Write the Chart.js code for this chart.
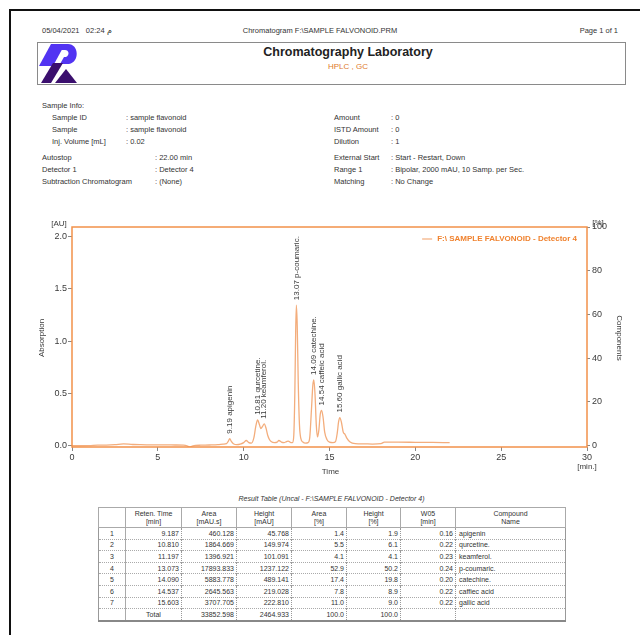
<!DOCTYPE html>
<html>
<head>
<meta charset="utf-8">
<title>Chromatogram F:\SAMPLE FALVONOID.PRM</title>
<script src="https://cdn.jsdelivr.net/npm/chart.js@4.4.1/dist/chart.umd.min.js"></script>
<style>
  html, body { margin: 0; padding: 0; background: #ffffff; }
  body { width: 640px; height: 635px; position: relative; overflow: hidden;
         font-family: "Liberation Sans", Arial, sans-serif; color: #333; }
  .abs { position: absolute; white-space: nowrap; }
  .page-top { position: absolute; left: 9px; top: 9px; width: 640px; height: 0; border-top: 2px solid #111; }
  .page-left { position: absolute; left: 9px; top: 9px; width: 0; height: 640px; border-left: 2px solid #111; }
  .small { font-size: 7.5px; color: #333; }
  .hdrbox { position: absolute; left: 37px; top: 42px; width: 587px; height: 41px; border: 1px solid #8a8a8a; }
  #chartWrap { position: absolute; left: 0; top: 200px; width: 640px; height: 290px; }
  table.res { position: absolute; left: 98px; top: 507px; border-collapse: collapse;
              font-size: 7px; color: #333; table-layout: fixed;
              border: 1px solid #999; border-bottom: 2px solid #888; }
  table.res th { font-weight: normal; height: 19px; line-height: 8px; text-align: center;
                 border: 1px solid #aaa; padding: 0; }
  table.res td { height: 10.6px; padding: 0 2px; line-height: 9px;
                 border-left: 1px dotted #999; border-right: 1px dotted #999; border-top: 1px dotted #aaa; text-align: right; }
  table.res td.c { text-align: center; border-right: 1px solid #aaa; }
  table.res td.l { text-align: left; padding-left: 3px; }
</style>
</head>
<body>
<div class="page-top"></div>
<div class="page-left"></div>

<div class="abs small" style="left:42px; top:26px;">05/04/2021&nbsp;&nbsp; 02:24 <span>م</span></div>
<div class="abs small" style="left:0; width:640px; top:26px; text-align:center;">Chromatogram F:\SAMPLE FALVONOID.PRM</div>
<div class="abs small" style="right:22px; top:26px;">Page 1 of 1</div>

<div class="hdrbox"></div>
<svg class="abs" style="left:38px; top:43px;" width="42" height="41" viewBox="0 0 42 41">
  <path d="M1,23 L13,1 L27,1 L15,23 Z" fill="#5234f2"/>
  <path d="M24,1 L30,1 C41,1 42,19 31,21 L22,21 L26,14 L28,14 C32,12 31,7 27,7 L23,7 Z" fill="#5234f2"/>
  <path d="M3,40 L15,20 L25,20 L13,40 Z" fill="#3b0f6e"/>
  <path d="M17,40 L28,26 L39,40 Z" fill="#3b0f6e"/>
</svg>
<div class="abs" style="left:37px; width:622px; top:45px; text-align:center; font-size:12.5px; font-weight:bold; color:#222;">Chromatography Laboratory</div>
<div class="abs" style="left:37px; width:622px; top:62px; text-align:center; font-size:8px; color:#e07a2c;">HPLC , GC</div>

<div class="abs small" style="left:42px; top:101px;">Sample Info:</div>
<div class="abs small" style="left:52px; top:113px;">Sample ID</div>
<div class="abs small" style="left:126px; top:113px;">: sample flavonoid</div>
<div class="abs small" style="left:52px; top:125px;">Sample</div>
<div class="abs small" style="left:126px; top:125px;">: sample flavonoid</div>
<div class="abs small" style="left:52px; top:137px;">Inj. Volume [mL]</div>
<div class="abs small" style="left:126px; top:137px;">: 0.02</div>

<div class="abs small" style="left:334px; top:113px;">Amount</div>
<div class="abs small" style="left:391px; top:113px;">: 0</div>
<div class="abs small" style="left:334px; top:125px;">ISTD Amount</div>
<div class="abs small" style="left:391px; top:125px;">: 0</div>
<div class="abs small" style="left:334px; top:137px;">Dilution</div>
<div class="abs small" style="left:391px; top:137px;">: 1</div>

<div class="abs small" style="left:42px; top:153px;">Autostop</div>
<div class="abs small" style="left:155px; top:153px;">: 22.00 min</div>
<div class="abs small" style="left:42px; top:165px;">Detector 1</div>
<div class="abs small" style="left:155px; top:165px;">: Detector 4</div>
<div class="abs small" style="left:42px; top:177px;">Subtraction Chromatogram</div>
<div class="abs small" style="left:155px; top:177px;">: (None)</div>

<div class="abs small" style="left:334px; top:153px;">External Start</div>
<div class="abs small" style="left:391px; top:153px;">: Start - Restart, Down</div>
<div class="abs small" style="left:334px; top:165px;">Range 1</div>
<div class="abs small" style="left:391px; top:165px;">: Bipolar, 2000 mAU, 10 Samp. per Sec.</div>
<div class="abs small" style="left:334px; top:177px;">Matching</div>
<div class="abs small" style="left:391px; top:177px;">: No Change</div>

<div id="chartWrap"><canvas id="chrom" width="640" height="290"></canvas></div>

<div class="abs" style="left:98px; width:467px; top:495px; text-align:center; font-size:7px; font-style:italic; color:#333;">Result Table (Uncal - F:\SAMPLE FALVONOID - Detector 4)</div>
<table class="res" id="resTable">
  <colgroup>
    <col style="width:27px"><col style="width:56px"><col style="width:55px"><col style="width:55px">
    <col style="width:55px"><col style="width:54px"><col style="width:55px"><col style="width:110px">
  </colgroup>
  <thead>
    <tr><th></th><th>Reten. Time<br>[min]</th><th>Area<br>[mAU.s]</th><th>Height<br>[mAU]</th>
        <th>Area<br>[%]</th><th>Height<br>[%]</th><th>W05<br>[min]</th><th>Compound<br>Name</th></tr>
  </thead>
  <tbody id="resBody"></tbody>
</table>

<script>
// Detector 4 trace: retention time [min] and absorbance [AU]
const times = [
  0.0, 0.5, 1.0, 1.5, 2.0, 2.5, 3.0, 3.3, 3.6, 4.0, 4.5, 5.0, 5.5, 6.0, 6.5, 6.7, 6.85, 7.0, 7.2, 7.5,
  8.0, 8.5, 8.8, 9.0, 9.1, 9.19, 9.28, 9.4, 9.6, 9.8, 10.0, 10.15, 10.3, 10.45, 10.6, 10.7, 10.81, 10.92,
  11.0, 11.1, 11.2, 11.3, 11.4, 11.5, 11.6, 11.8, 11.95, 12.05, 12.2, 12.35, 12.5, 12.6, 12.75, 12.85,
  12.92, 12.98, 13.03, 13.07, 13.12, 13.18, 13.25, 13.33, 13.45, 13.6, 13.75, 13.85, 13.95, 14.03, 14.09,
  14.16, 14.23, 14.3, 14.38, 14.46, 14.54, 14.62, 14.72, 14.85, 15.0, 15.2, 15.35, 15.45, 15.53, 15.6,
  15.7, 15.8, 15.9, 16.0, 16.2, 16.5, 17.0, 17.5, 18.0, 18.2, 18.6, 19.0, 20.0, 21.0, 22.0
];
const absorbance = [
  0.000, 0.000, 0.001, 0.005, 0.006, 0.010, 0.018, 0.016, 0.012, 0.010, 0.009, 0.008, 0.008, 0.007, 0.006, 0.000, -0.012, -0.004, 0.003, 0.005,
  0.007, 0.010, 0.015, 0.020, 0.042, 0.068, 0.042, 0.020, 0.010, 0.015, 0.030, 0.050, 0.030, 0.025, 0.080, 0.180, 0.248, 0.200,
  0.165, 0.185, 0.210, 0.170, 0.100, 0.060, 0.040, 0.030, 0.035, 0.050, 0.035, 0.030, 0.040, 0.045, 0.030, 0.030,
  0.100, 0.500, 1.100, 1.345, 1.150, 0.600, 0.200, 0.070, 0.035, 0.025, 0.030, 0.080, 0.350, 0.580, 0.630,
  0.480, 0.200, 0.085, 0.150, 0.300, 0.338, 0.280, 0.130, 0.060, 0.035, 0.030, 0.040, 0.120, 0.230, 0.270,
  0.220, 0.130, 0.110, 0.075, 0.035, 0.020, 0.018, 0.016, 0.020, 0.035, 0.035, 0.034, 0.033, 0.032, 0.030
];

// Identified peaks
const peakTimes = [9.19, 10.81, 11.20, 13.07, 14.09, 14.54, 15.60];
const peakNames = ['apigenin', 'qurcetine.', 'keamferol.', 'p-coumaric.', 'catechine.', 'caffeic acid', 'gallic acid'];

// Axis ticks
const absTicks = [0.0, 0.5, 1.0, 1.5, 2.0];
const pctTicks = [0, 20, 40, 60, 80, 100];
const timeTicks = [0, 5, 10, 15, 20, 25, 30];

// Result table
const rowNo = [1, 2, 3, 4, 5, 6, 7];
const retTime = [9.187, 10.810, 11.197, 13.073, 14.090, 14.537, 15.603];
const areaMAUs = [460.128, 1864.669, 1396.921, 17893.833, 5883.778, 2645.563, 3707.705];
const heightMAU = [45.768, 149.974, 101.091, 1237.122, 489.141, 219.028, 222.810];
const areaPct = [1.4, 5.5, 4.1, 52.9, 17.4, 7.8, 11.0];
const heightPct = [1.9, 6.1, 4.1, 50.2, 19.8, 8.9, 9.0];
const w05 = [0.16, 0.22, 0.23, 0.24, 0.20, 0.22, 0.22];
const compounds = ['apigenin', 'qurcetine.', 'keamferol.', 'p-coumaric.', 'catechine.', 'caffiec acid', 'gallic acid'];
const totals = { area: 33852.598, height: 2464.933, areaPct: 100.0, heightPct: 100.0 };

const tbody = document.getElementById('resBody');
rowNo.forEach((n, i) => {
  const tr = document.createElement('tr');
  tr.innerHTML = `<td class="c">${n}</td><td>${retTime[i].toFixed(3)}</td><td>${areaMAUs[i].toFixed(3)}</td>` +
    `<td>${heightMAU[i].toFixed(3)}</td><td>${areaPct[i].toFixed(1)}</td><td>${heightPct[i].toFixed(1)}</td>` +
    `<td>${w05[i].toFixed(2)}</td><td class="l">${compounds[i]}</td>`;
  tbody.appendChild(tr);
});
const totRow = document.createElement('tr');
totRow.innerHTML = `<td class="c"></td><td style="text-align:center">Total</td><td>${totals.area.toFixed(3)}</td>` +
  `<td>${totals.height.toFixed(3)}</td><td>${totals.areaPct.toFixed(1)}</td><td>${totals.heightPct.toFixed(1)}</td><td></td><td></td>`;
tbody.appendChild(totRow);

const ORANGE_FRAME = '#f2914a';
const TRACE = '#f3ad7c';
const TEXT = '#3a3a3a';
const FONT = '"Liberation Sans", Arial, sans-serif';

// Frame, axis captions, legend and peak annotations
const decorations = {
  id: 'decorations',
  afterDatasetsDraw(chart) {
    const { ctx, chartArea: a, scales } = chart;
    const xs = scales.x, ys = scales.y;
    ctx.save();
    ctx.fillStyle = TEXT;
    ctx.font = '8px ' + FONT;
    ctx.textAlign = 'left';
    ctx.textBaseline = 'middle';
    peakTimes.forEach((t, i) => {
      let idx = times.indexOf(t);
      const h = idx >= 0 ? absorbance[idx] : 0;
      const px = xs.getPixelForValue(t);
      const py = ys.getPixelForValue(h) - 5;
      ctx.save();
      ctx.translate(px, py);
      ctx.rotate(-Math.PI / 2);
      ctx.fillText(t.toFixed(2) + ' ' + peakNames[i], 0, 0);
      ctx.restore();
    });
    ctx.restore();
  },
  afterDraw(chart) {
    const { ctx, chartArea: a } = chart;
    ctx.save();
    ctx.strokeStyle = ORANGE_FRAME;
    ctx.lineWidth = 1.5;
    ctx.strokeRect(a.left, a.top, a.right - a.left, a.bottom - a.top);

    ctx.fillStyle = TEXT;
    ctx.font = '8px ' + FONT;
    ctx.textAlign = 'center';
    ctx.textBaseline = 'middle';
    ctx.fillText('[AU]', a.left - 13, a.top - 3);
    ctx.fillText('[%]', a.right + 11, a.top - 4);
    ctx.fillText('Time', (a.left + a.right) / 2 + 1, a.bottom + 25);
    ctx.fillText('[min.]', a.right, a.bottom + 20);

    ctx.save();
    ctx.translate(a.left - 30, (a.top + a.bottom) / 2 + 1);
    ctx.rotate(-Math.PI / 2);
    ctx.fillText('Absorption', 0, 0);
    ctx.restore();

    ctx.save();
    ctx.translate(a.right + 32, (a.top + a.bottom) / 2 + 1);
    ctx.rotate(Math.PI / 2);
    ctx.fillText('Components', 0, 0);
    ctx.restore();

    // legend entry
    const label = 'F:\\ SAMPLE FALVONOID - Detector 4';
    ctx.font = 'bold 8px ' + FONT;
    ctx.textAlign = 'right';
    ctx.fillStyle = '#f0822e';
    const lx = a.right - 10, ly = a.top + 12;
    ctx.fillText(label, lx, ly);
    const w = ctx.measureText(label).width;
    ctx.strokeStyle = TRACE;
    ctx.lineWidth = 1.2;
    ctx.beginPath();
    ctx.moveTo(lx - w - 15, ly);
    ctx.lineTo(lx - w - 5, ly);
    ctx.stroke();
    ctx.restore();
  }
};

const keepTicks = list => scale => {
  scale.ticks = list.map(v => ({ value: v }));
};

new Chart(document.getElementById('chrom'), {
  type: 'line',
  data: {
    datasets: [{
      label: 'F:\\ SAMPLE FALVONOID - Detector 4',
      data: times.map((t, i) => ({ x: t, y: absorbance[i] })),
      borderColor: TRACE,
      borderWidth: 1.3,
      pointRadius: 0,
      cubicInterpolationMode: 'monotone',
      yAxisID: 'y'
    }]
  },
  options: {
    responsive: false,
    devicePixelRatio: 1,
    animation: false,
    layout: { padding: { top: 27, left: 0, right: 0, bottom: 0 } },
    plugins: { legend: { display: false }, tooltip: { enabled: false } },
    scales: {
      x: {
        type: 'linear', min: 0, max: 30,
        afterBuildTicks: keepTicks(timeTicks),
        afterFit: s => { s.height = 43; },
        grid: { drawOnChartArea: false, drawTicks: true, tickLength: 4, color: '#888' },
        border: { display: false },
        ticks: { color: TEXT, font: { size: 9, family: FONT }, padding: 1, maxRotation: 0 }
      },
      y: {
        position: 'left', min: -0.012, max: 2.093,
        afterBuildTicks: keepTicks(absTicks),
        afterFit: s => { s.width = 72; },
        grid: { drawOnChartArea: false, drawTicks: true, tickLength: 4, color: '#888' },
        border: { display: false },
        ticks: { color: TEXT, font: { size: 9, family: FONT }, padding: 1, callback: v => v.toFixed(1) }
      },
      y2: {
        position: 'right', min: -0.6, max: 100,
        afterBuildTicks: keepTicks(pctTicks),
        afterFit: s => { s.width = 53; },
        grid: { drawOnChartArea: false, drawTicks: true, tickLength: 3, color: '#888' },
        border: { display: false },
        ticks: { color: TEXT, font: { size: 9, family: FONT }, padding: 2 }
      }
    }
  },
  plugins: [decorations]
});
</script>
</body>
</html>
